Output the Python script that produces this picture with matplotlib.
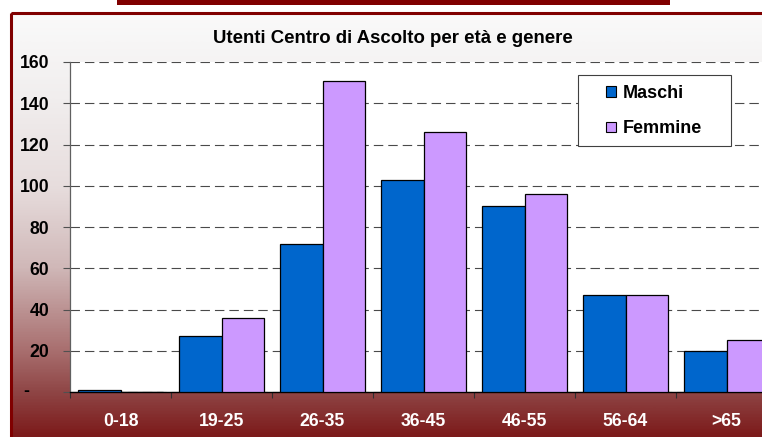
import matplotlib
matplotlib.use("Agg")
import matplotlib.pyplot as plt
import numpy as np
from matplotlib.patches import Rectangle, Patch
from matplotlib.colors import LinearSegmentedColormap
import matplotlib.transforms as mtransforms

plt.rcParams['font.family'] = ['Liberation Sans', 'DejaVu Sans']

categories = ["0-18", "19-25", "26-35", "36-45", "46-55", "56-64", ">65"]
maschi = [1, 27, 72, 103, 90, 47, 20]
femmine = [0, 36, 151, 126, 96, 47, 25]
series_names = ["Maschi", "Femmine"]
yticks = [0, 20, 40, 60, 80, 100, 120, 140, 160]
ytick_labels = ["", "20", "40", "60", "80", "100", "120", "140", "160"]
title = "Utenti Centro di Ascolto per età e genere"

W, H = 762, 437
fig = plt.figure(figsize=(W / 100, H / 100), dpi=100)
fig.patch.set_facecolor("white")

# background layer in pixel coordinates
bg = fig.add_axes([0, 0, 1, 1], zorder=-10)
bg.set_xlim(0, W)
bg.set_ylim(H, 0)
bg.axis("off")

stops = [(0.0, (250, 250, 250)), (0.2, (241, 238, 238)), (0.41, (231, 221, 221)),
         (0.6, (208, 184, 184)), (0.8, (168, 110, 110)), (0.9, (142, 68, 68)),
         (1.0, (124, 26, 26))]
cmap = LinearSegmentedColormap.from_list(
    "grad", [(p, tuple(c / 255 for c in rgb)) for p, rgb in stops])
grad = np.linspace(0, 1, 400).reshape(-1, 1)
bg.imshow(grad, cmap=cmap, aspect="auto", extent=(10.7, W + 5, H, 12.5),
          interpolation="bilinear")
bg.add_patch(Rectangle((10.7, 12.5), 900, 600, fill=False,
                       edgecolor="#800000", lw=2.2))
bg.add_patch(Rectangle((117, -1), 553, 5.5, facecolor="#800000",
                       edgecolor="none"))

# main plot
ax = fig.add_axes([70 / W, 1 - 392 / H, 707 / W, 330 / H])
ax.set_facecolor("white")
x = np.arange(len(categories)) + 0.5
bw = 0.42
ax.bar(x - bw / 2, maschi, width=bw, color="#0066CC", edgecolor="black",
       linewidth=0.9, zorder=3, label=series_names[0])
ax.bar(x + bw / 2, femmine, width=bw, color="#CC99FF", edgecolor="black",
       linewidth=0.9, zorder=3, label=series_names[1])
ax.set_xlim(0, len(categories))
ax.set_ylim(0, 160)

ax.set_yticks(yticks)
ax.set_yticklabels(ytick_labels, fontsize=12.7, fontweight="bold")
ax.tick_params(axis="y", direction="out", length=5, width=0.8,
               color="#505050", pad=10)
ax.yaxis.grid(True, linestyle=(0, (8.5, 4.5)), color="#4a4a4a", lw=0.8, zorder=0)
ax.set_axisbelow(True)

ax.set_xticks(x)
ax.set_xticklabels(categories, fontsize=12.7, fontweight="bold", color="white")
ax.tick_params(axis="x", which="major", length=0, pad=15)
ax.set_xticks(np.arange(len(categories) + 1), minor=True)
ax.tick_params(axis="x", which="minor", direction="out", length=4.5,
               width=0.8, color="#303030")

for s in ["top", "right"]:
    ax.spines[s].set_visible(False)
ax.spines["left"].set_color("#606060")
ax.spines["left"].set_linewidth(0.9)
ax.spines["bottom"].set_color("black")
ax.spines["bottom"].set_linewidth(1.0)

# zero label shown as "-"
trans = mtransforms.blended_transform_factory(fig.transFigure, ax.transData)
ax.text(26.5 / W, 0, "-", transform=trans, ha="center", va="center",
        fontsize=12.7, fontweight="bold", clip_on=False)

fig.text(393 / W, 1 - 38.5 / H, title, ha="center", va="center",
         fontsize=13.4, fontweight="bold")

# legend
box = Rectangle((578 / W, 1 - 146 / H), 153 / W, 71 / H,
                transform=fig.transFigure, facecolor="white",
                edgecolor="#404040", lw=0.8, zorder=5)
fig.add_artist(box)
handles = [Patch(facecolor="#0066CC", edgecolor="black", lw=0.8),
           Patch(facecolor="#CC99FF", edgecolor="black", lw=0.8)]
leg = fig.legend(handles, series_names, loc="upper left",
                 bbox_to_anchor=(606 / W, 1 - 85 / H), frameon=False,
                 borderpad=0, borderaxespad=0, handlelength=0.55,
                 handleheight=0.55, handletextpad=0.35, labelspacing=1.02,
                 prop={"size": 13, "weight": "bold"})
leg.set_zorder(6)

fig.savefig("out.png", dpi=100)
